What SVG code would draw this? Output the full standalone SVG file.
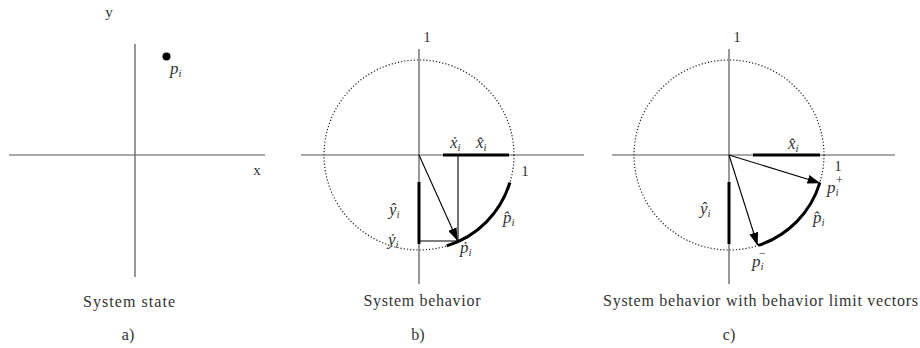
<svg xmlns="http://www.w3.org/2000/svg" width="920" height="348" viewBox="0 0 920 348" font-family="'Liberation Serif', 'DejaVu Serif', serif">
<style>
.ax{stroke:#555;stroke-width:1.2;fill:none}
.thin{stroke:#000;stroke-width:1.1;fill:none}
.thick{stroke:#000;stroke-width:3;fill:none}
.dot{stroke:#222;stroke-width:1.2;fill:none;stroke-dasharray:1.2 2}
text{font-family:'Liberation Serif','DejaVu Serif',serif;fill:#333;font-size:15px}
.m{font-style:italic;font-size:17px}
.cap{font-size:16px;text-anchor:middle}
.mid{text-anchor:middle}
.s{font-size:11px;font-style:italic}
.op{font-size:12px;font-style:normal}
</style>
<defs>
<marker id="ah" markerUnits="userSpaceOnUse" markerWidth="13" markerHeight="9" viewBox="0 0 13 9" refX="12.5" refY="4.5" orient="auto">
<path d="M0,0 L13,4.5 L0,9 z" fill="#000"/>
</marker>
</defs>
<rect width="920" height="348" fill="#fff"/>

<g id="panel-a">
<line class="ax" x1="9" y1="155" x2="265" y2="155"/>
<line class="ax" x1="135" y1="44" x2="135" y2="277"/>
<circle cx="166.5" cy="56.5" r="4" fill="#000"/>
<text class="mid" x="109" y="17">y</text>
<text class="mid" x="257" y="175">x</text>
<text class="m" x="170" y="74">p<tspan class="s" dy="3">i</tspan></text>
<text class="cap" x="129" y="307" textLength="92" lengthAdjust="spacing">System state</text>
<text class="cap" x="128" y="340">a)</text>
</g>

<g id="panel-b">
<line class="ax" x1="301" y1="155" x2="584" y2="155"/>
<line class="ax" x1="419" y1="49" x2="419" y2="284"/>
<circle class="dot" cx="419" cy="155" r="95"/>
<line class="thick" x1="443" y1="155" x2="509" y2="155"/>
<line class="thick" x1="419" y1="182" x2="419" y2="244"/>
<path class="thick" d="M509.9,182.5 A95,95 0 0 1 446.7,245.9"/>
<text class="mid" x="427" y="42">1</text>
<text class="mid" x="525" y="176">1</text>
<text class="m" x="450" y="148">ẋ<tspan class="s" dy="3">i</tspan></text>
<text class="m" x="476" y="148">x̂<tspan class="s" dy="3">i</tspan></text>
<text class="m" x="389" y="215">ŷ<tspan class="s" dy="3">i</tspan></text>
<text class="m" x="388" y="245">ẏ<tspan class="s" dy="3">i</tspan></text>
<text class="m" x="460" y="253">ṗ<tspan class="s" dy="3">i</tspan></text>
<text class="m" x="503" y="223">p̂<tspan class="s" dy="3">i</tspan></text>
<text class="cap" x="422" y="306" textLength="117" lengthAdjust="spacing">System behavior</text>
<text class="cap" x="418" y="340">b)</text>
</g>

<g id="panel-c">
<line class="ax" x1="612" y1="155" x2="895" y2="155"/>
<line class="ax" x1="729" y1="49" x2="729" y2="284"/>
<circle class="dot" cx="729" cy="155" r="95"/>
<line class="thick" x1="753" y1="155" x2="820" y2="155"/>
<line class="thick" x1="729" y1="182" x2="729" y2="244"/>
<path class="thick" d="M819.9,182.6 A95,95 0 0 1 758.2,245.4"/>
<text class="mid" x="737" y="42">1</text>
<text class="mid" x="838" y="171">1</text>
<text class="m" x="788" y="149">x̂<tspan class="s" dy="3">i</tspan></text>
<text class="m" x="700" y="214">ŷ<tspan class="s" dy="3">i</tspan></text>
<text class="m" x="813" y="223">p̂<tspan class="s" dy="3">i</tspan></text>
<text class="m" x="827" y="193">p<tspan class="s" dy="3">i</tspan></text>
<text class="op" x="836" y="184">+</text>
<text class="m" x="752" y="267">p<tspan class="s" dy="3">i</tspan></text>
<text class="op" x="759" y="257">−</text>
<text class="cap" x="760.5" y="306" textLength="315" lengthAdjust="spacing">System behavior with behavior limit vectors</text>
<text class="cap" x="729" y="340">c)</text>
</g>

<g id="connectors">
<line class="thin" x1="458" y1="155" x2="458" y2="241"/>
<line class="thin" x1="419" y1="241" x2="458" y2="241"/>
<line class="thin" x1="419" y1="155" x2="457.5" y2="240.5" marker-end="url(#ah)"/>
<line class="thin" x1="729" y1="155" x2="820" y2="183" marker-end="url(#ah)"/>
<line class="thin" x1="729" y1="155" x2="757.5" y2="245" marker-end="url(#ah)"/>
</g>
</svg>
